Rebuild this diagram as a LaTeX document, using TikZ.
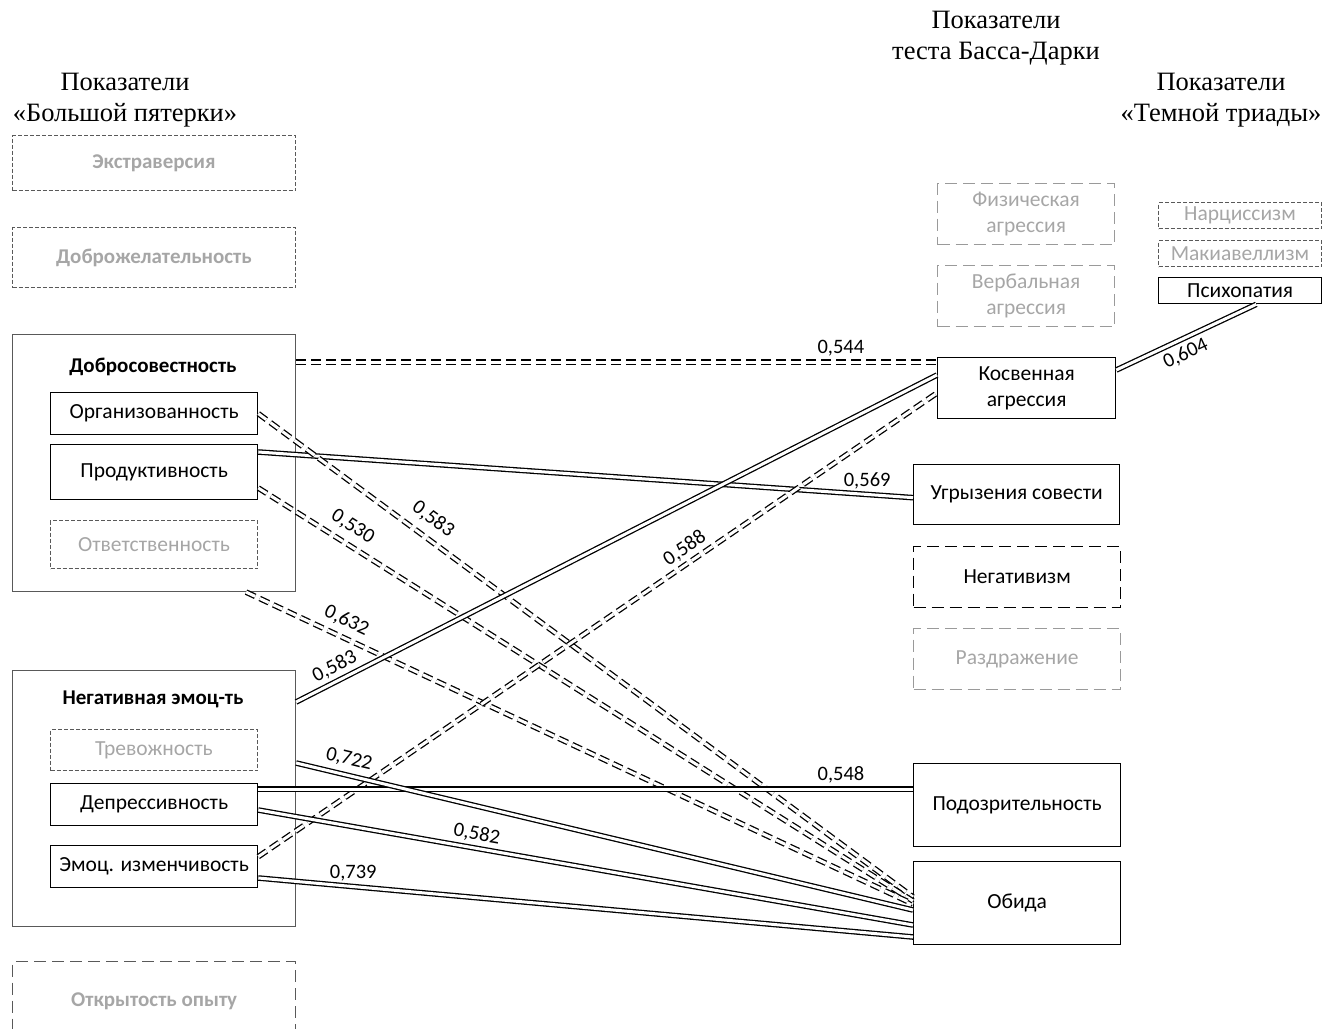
\documentclass[tikz,border=0pt]{standalone}
\usepackage{fontspec}
\setmainfont{Carlito}
\newfontfamily\headfont{Liberation Serif}
\definecolor{faint}{HTML}{A6A6A6}
\definecolor{edge}{HTML}{595959}
\definecolor{pale}{HTML}{9A9A9A}
\tikzset{
  box/.style={draw, line width=1.3pt, inner sep=1pt, align=center, anchor=north west,
    font=\fontsize{21.5}{26}\selectfont},
  group/.style={draw=edge, line width=1.1pt, anchor=north west},
  ghost/.style={box, draw=edge, line width=1pt, dash pattern=on 4pt off 2pt, text=faint},
  ghostlong/.style={box, draw=pale, dash pattern=on 12pt off 6pt, text=faint},
  title/.style={font=\fontsize{21}{26}\selectfont\bfseries},
  head/.style={font=\headfont\fontsize{26.5}{31}\selectfont, align=center},
  link/.style={double, double distance=3pt, line width=1.3pt},
  dlink/.style={link, dash pattern=on 10pt off 5pt},
  val/.style={font=\fontsize{20.5}{24}\selectfont, inner sep=2pt}
}

\begin{document}
\begin{tikzpicture}[x=1pt, y=-1pt]
    \clip (0,0) rectangle (1330,1028);
    \node[head] (hbig) at (125,100) {Показатели\\«Большой пятерки»};
    \node[head] (hbuss) at (996,38) {Показатели\\теста Басса-Дарки};
    \node[head] (hdark) at (1221,100) {Показатели\\«Темной триады»};

    \node[ghost, minimum width=283pt, minimum height=55pt, font=\fontsize{21}{26}\selectfont\bfseries] (extra) at (12,135) {Экстраверсия};
    \node[ghost, minimum width=283pt, minimum height=60pt, font=\fontsize{21}{26}\selectfont\bfseries] (agree) at (12,227) {Доброжелательность};
    \node[group, minimum width=283pt, minimum height=257pt] (consc) at (12,334) {};
    \node[title] (conscT) at (153,367) {Добросовестность};
    \node[box, minimum width=207pt, minimum height=42pt] (org) at (50,392) {Организованность};
    \node[box, minimum width=207pt, minimum height=55pt] (prod) at (50,444) {Продуктивность};
    \node[ghost, minimum width=207pt, minimum height=48pt] (resp) at (50,520) {Ответственность};
    \node[group, minimum width=283pt, minimum height=256pt] (neg) at (12,670) {};
    \node[title] (negT) at (153,699) {Негативная эмоц-ть};
    \node[ghost, minimum width=207pt, minimum height=41pt] (anx) at (50,729) {Тревожность};
    \node[box, minimum width=207pt, minimum height=42pt] (depr) at (50,783) {Депрессивность};
    \node[box, minimum width=207pt, minimum height=42pt] (emo) at (50,845) {Эмоц. изменчивость};
    \node[ghostlong, draw=edge, minimum width=283pt, minimum height=79pt, font=\fontsize{21}{26}\selectfont\bfseries] (open) at (12,961) {Открытость опыту};

    \node[ghostlong, minimum width=177pt, minimum height=61pt] (phys) at (937,183) {Физическая\\агрессия};
    \node[ghostlong, minimum width=177pt, minimum height=61pt] (verb) at (937,265) {Вербальная\\агрессия};
    \node[box, minimum width=178pt, minimum height=61pt] (indirect) at (937,357) {Косвенная\\агрессия};
    \node[box, minimum width=206pt, minimum height=60pt] (remorse) at (913,464) {Угрызения совести};
    \node[box, dash pattern=on 12pt off 6pt, minimum width=207pt, minimum height=61pt] (negat) at (913,546) {Негативизм};
    \node[ghostlong, minimum width=207pt, minimum height=61pt] (irrit) at (913,628) {Раздражение};
    \node[box, minimum width=207pt, minimum height=83pt] (suspic) at (913,763) {Подозрительность};
    \node[box, minimum width=207pt, minimum height=83pt] (grudge) at (913,861) {Обида};

    \node[ghost, minimum width=163pt, minimum height=26pt] (narc) at (1158,202) {Нарциссизм};
    \node[ghost, minimum width=163pt, minimum height=26pt] (mach) at (1158,240) {Макиавеллизм};
    \node[box, minimum width=163pt, minimum height=26pt] (psycho) at (1158,277) {Психопатия};

    \draw[dlink] ([yshift=-28pt]consc.north east) -- ([yshift=-5pt]indirect.north west) node[val, pos=.85, above=3pt]{0,544};
    \draw[link] ([yshift=-13pt]indirect.north east) -- ([xshift=-66pt]psycho.south east) node[val, pos=.45, sloped, below=4pt]{0,604};
    \draw[link] ([yshift=-8pt]prod.north east) -- ([yshift=-3pt]remorse.west) node[val, pos=.93, above=3pt]{0,569};
    \draw[dlink] (org.east) -- ([yshift=-36pt]grudge.north west) node[val, pos=.25, sloped, above=8pt]{0,583};
    \draw[dlink] ([yshift=-44pt]prod.north east) -- ([yshift=-40pt]grudge.north west) node[val, pos=.13, sloped, above=7pt]{0,530};
    \draw[dlink] ([xshift=-50pt]consc.south east) -- ([yshift=-43pt]grudge.north west) node[val, pos=.14, sloped, above=6pt]{0,632};
    \draw[link] ([yshift=-32pt]neg.north east) -- ([yshift=-18pt]indirect.north west) node[val, pos=.07, sloped, above=3pt]{0,583};
    \draw[dlink] ([yshift=10pt]emo.east) -- ([yshift=-36pt]indirect.north west) node[val, pos=.64, sloped, above=3pt]{0,588};
    \draw[link] ([yshift=-6pt]depr.north east) -- ([yshift=-26pt]suspic.north west) node[val, pos=.89, above=3pt]{0,548};
    \draw[link] ([yshift=-27pt]depr.north east) -- ([yshift=-64pt]grudge.north west) node[val, pos=.33, sloped, above=3pt]{0,582};
    \draw[link] ([yshift=-93pt]neg.north east) -- ([yshift=-49pt]grudge.north west) node[val, pos=.08, sloped, above=5pt]{0,722};
    \draw[link] ([yshift=-33pt]emo.north east) -- ([yshift=-76pt]grudge.north west) node[val, pos=.145, above=3pt]{0,739};
\end{tikzpicture}
\end{document}
